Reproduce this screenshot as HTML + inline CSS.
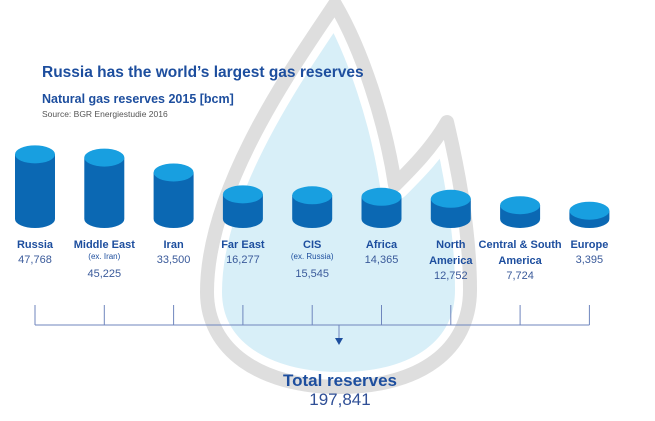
<!DOCTYPE html>
<html><head><meta charset="utf-8"><style>
html,body{margin:0;padding:0;background:#fff;width:655px;height:421px;overflow:hidden}
svg{display:block;font-family:"Liberation Sans",Arial,sans-serif}
</style></head><body>
<svg width="655" height="421" viewBox="0 0 655 421">
<g>
<path d="M335,4 C298,60 207,185 207,292 C207,350 260,387 340,387 C420,387 470,350 470,290 C470,225 456,160 447,122 C432,148 412,168 395,185 C385,120 362,50 335,4 Z" fill="#d8eff8" stroke="#fff" stroke-width="30" stroke-linejoin="round"/>
<path d="M335,4 C298,60 207,185 207,292 C207,350 260,387 340,387 C420,387 470,350 470,290 C470,225 456,160 447,122 C432,148 412,168 395,185 C385,120 362,50 335,4 Z" fill="none" stroke="#dedede" stroke-width="14" stroke-linejoin="round"/>
</g>
<text x="42" y="77" font-size="15.5" font-weight="bold" fill="#1d4e9e">Russia has the world’s largest gas reserves</text>
<text x="42" y="103" font-size="12.5" font-weight="bold" fill="#1d4e9e">Natural gas reserves 2015 [bcm]</text>
<text x="42" y="117" font-size="8.5" fill="#555">Source: BGR Energiestudie 2016</text>
<g id="bars"></g>
<g id="labels"></g>
<g id="bracket" stroke="#6f86bd" stroke-width="1" fill="none"></g>
<text x="340" y="386" font-size="17" font-weight="bold" fill="#1d4e9e" text-anchor="middle">Total reserves</text>
<text id="totalval" x="340" y="405" font-size="17" fill="#2f4f96" text-anchor="middle">197,841</text>
</svg>
<script>
const regions=["Russia","Middle East","Iran","Far East","CIS","Africa","North|America","Central & South|America","Europe"];
const subNotes=["","(ex. Iran)","","","(ex. Russia)","","","",""];
const values=[47768,45225,33500,16277,15545,14365,12752,7724,3395];
const valueLabels=["47,768","45,225","33,500","16,277","15,545","14,365","12,752","7,724","3,395"];
const NS="http://www.w3.org/2000/svg";
function xPos(i){return 35+i*69.3;}
function hScale(v){return 4+v*0.00127;}
const base=219, rx=20, ry=9;
const bars=document.getElementById('bars'), labels=document.getElementById('labels'), br=document.getElementById('bracket');
function mk(tag,attrs,parent){const e=document.createElementNS(NS,tag);for(const k in attrs)e.setAttribute(k,attrs[k]);parent.appendChild(e);return e;}
values.forEach((v,i)=>{
  const cx=xPos(i), h=hScale(v), top=base-h;
  const g=mk('g',{},bars);
  
  
  mk('path',{d:`M${cx-rx},${top} L${cx-rx},${base} A${rx},${ry} 0 0 0 ${cx+rx},${base} L${cx+rx},${top} Z`,fill:'#0b68b3'},g);
  mk('ellipse',{cx:cx,cy:top,rx:rx,ry:ry,fill:'#189fe0'},g);
  const lines=regions[i].split('|');
  let y=248;
  lines.forEach(l=>{const t=mk('text',{x:cx,y:y,'font-size':'11','font-weight':'bold',fill:'#1d4e9e','text-anchor':'middle'},labels);t.textContent=l;
    
    
    y+=16;});
  if(subNotes[i]){const t=mk('text',{x:cx,y:y-5,'font-size':'8','fill':'#1d4e9e','text-anchor':'middle'},labels);t.textContent=subNotes[i];
    
    
    y+=14;}
  const t=mk('text',{x:cx,y:y-1,'font-size':'11',fill:'#3a5a9a','text-anchor':'middle'},labels);t.textContent=valueLabels[i];
  
  
  mk('line',{x1:cx,y1:305,x2:cx,y2:325},br);
});
mk('line',{x1:xPos(0),y1:325,x2:xPos(values.length-1),y2:325},br);
mk('line',{x1:339,y1:325,x2:339,y2:338},br);
mk('path',{d:'M335,338 L343,338 L339,345 Z',fill:'#1d4e9e',stroke:'none'},br);
</script>
</body></html>
